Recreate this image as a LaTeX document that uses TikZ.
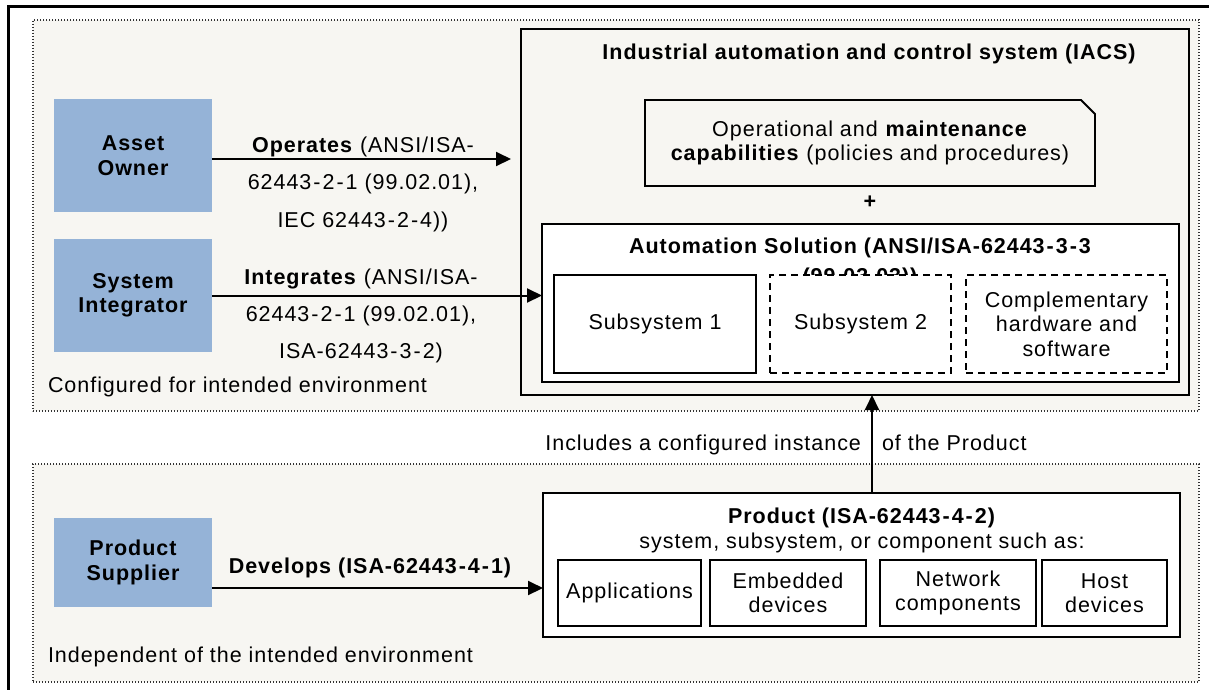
\documentclass[tikz,border=0pt]{standalone}
\usepackage{fontspec}
\setmainfont{Liberation Sans}[LetterSpace=4.5]
\usetikzlibrary{arrows.meta}
\definecolor{regionbg}{HTML}{F7F6F2}
\definecolor{actor}{HTML}{95B3D7}
\definecolor{dotline}{HTML}{333333}
\newcommand\dsh{\hspace{2pt}-\hspace{2pt}}
\begin{document}
\begin{tikzpicture}[x=1pt,y=-1pt,
  every node/.style={inner sep=0pt, outer sep=0pt},
  txt/.style={font=\fontsize{21.5}{24.5}\selectfont, align=center},
  region/.style={draw=dotline, line width=1.3pt, dash pattern=on 1.4pt off 1.6pt, fill=regionbg},
  actorbox/.style={fill=actor, minimum width=158pt, align=center, font=\fontsize{21.5}{24.5}\selectfont\bfseries},
  solidbox/.style={draw, line width=1.6pt, fill=white, txt},
  dashbox/.style={draw, line width=1.6pt, dash pattern=on 7pt off 5pt, fill=white, txt},
  conn/.style={line width=2pt, -{Triangle[length=15pt,width=14pt]}}
]
\useasboundingbox (0,0) rectangle (1209,689);
\fill[white] (0,0) rectangle (1209,689);
% outer frame (only top and left visible)
\draw[line width=3pt] (8,700) -- (8,6) -- (1220,6);
% regions
\node[region, minimum width=1166pt, minimum height=391pt] (topreg) at (616,215.5) {};
\node[region, minimum width=1166pt, minimum height=218pt] (botreg) at (616,573) {};
% IACS
\node[draw, line width=2.5pt, fill=regionbg, minimum width=668pt, minimum height=366pt] (iacs) at (855,212) {};
\node[txt, font=\fontsize{21.5}{24.5}\selectfont\bfseries, anchor=base] (iacstitle) at (869,59) {Industrial automation and control system (IACS)};
% operational box
\node[txt, minimum width=450pt, minimum height=86pt] (ops) at (870,143) {Operational and \textbf{maintenance}\\\textbf{capabilities} (policies and procedures)};
\draw[line width=1.8pt] (ops.south west) -- (ops.north west) -- ([xshift=-14]ops.north east) -- ([yshift=-14]ops.north east) -- (ops.south east) -- cycle;
\node[txt, font=\fontsize{21.5}{24.5}\selectfont\bfseries] (plus) at (870,202) {+};
% automation solution
\node[draw, line width=2pt, fill=white, minimum width=637pt, minimum height=158pt] (autosol) at (860.5,303) {};
\node[txt, font=\fontsize{21.5}{30}\selectfont\bfseries, anchor=base] (autotitle) at (860,283) {Automation Solution (ANSI/ISA-62443\dsh3\dsh3\\(99.03.03))};
\node[solidbox, minimum width=202pt, minimum height=98pt] (sub1) at (655,324) {Subsystem 1};
\node[dashbox, minimum width=181pt, minimum height=98pt] (sub2) at (860.5,324) {Subsystem 2};
\node[dashbox, minimum width=201pt, minimum height=98pt] (comp) at (1066.5,324) {Complementary\\hardware and\\software};
% actors
\node[actorbox, minimum height=113pt] (owner) at (133,155.5) {Asset\\Owner};
\node[actorbox, minimum height=113pt] (integ) at (133,295.5) {System\\Integrator};
\node[actorbox, minimum height=89pt] (supplier) at (133,562.5) {Product\\Supplier};
% product
\node[draw, line width=2pt, fill=white, minimum width=637pt, minimum height=144pt] (product) at (861.5,565) {};
\node[txt, anchor=base] (prodtitle) at (862,548) {\textbf{Product (ISA-62443\dsh4\dsh2)}\\system, subsystem, or component such as:};
\node[solidbox, minimum width=143pt, minimum height=66pt] (app) at (629.5,593) {Applications};
\node[solidbox, minimum width=156pt, minimum height=66pt] (emb) at (788,593) {Embedded\\devices};
\node[solidbox, minimum width=156pt, minimum height=66pt] (net) at (958,593) {Network\\components};
\node[solidbox, minimum width=125pt, minimum height=66pt] (host) at (1104.5,593) {Host\\devices};
% labels
\node[txt, font=\fontsize{21.5}{37.5}\selectfont, anchor=base] (oplbl) at (363,227) {\textbf{Operates} (ANSI/ISA-\\62443\dsh2\dsh1 (99.02.01),\\IEC 62443\dsh2\dsh4))};
\node[txt, font=\fontsize{21.5}{37}\selectfont, anchor=base] (intlbl) at (361,358) {\textbf{Integrates} (ANSI/ISA-\\62443\dsh2\dsh1 (99.02.01),\\ISA-62443\dsh3\dsh2)};
\node[txt, font=\fontsize{21.5}{24.5}\selectfont\bfseries, anchor=base] (devlbl) at (370,573) {Develops (ISA-62443\dsh4\dsh1)};
\node[txt, anchor=base east] (inclA) at (861,450) {Includes a configured instance};
\node[txt, anchor=base west] (inclB) at (882,450) {of the Product};
\node[txt, anchor=base west] (conf) at (48,392) {Configured for intended environment};
\node[txt, anchor=base west] (indep) at (48,662) {Independent of the intended environment};
% connectors
\draw[conn] ([yshift=-3.5]owner.east) -- ([yshift=-3.5,xshift=-10]owner.east -| iacs.west);
\draw[conn] (integ.east) -- (integ.east -| autosol.west);
\draw[conn] ([yshift=-25.5]supplier.east) -- ([yshift=-25.5]supplier.east -| product.west);
\draw[conn] ([xshift=10.5]product.north) -- ([xshift=10.5]product.north |- iacs.south);
\end{tikzpicture}
\end{document}
